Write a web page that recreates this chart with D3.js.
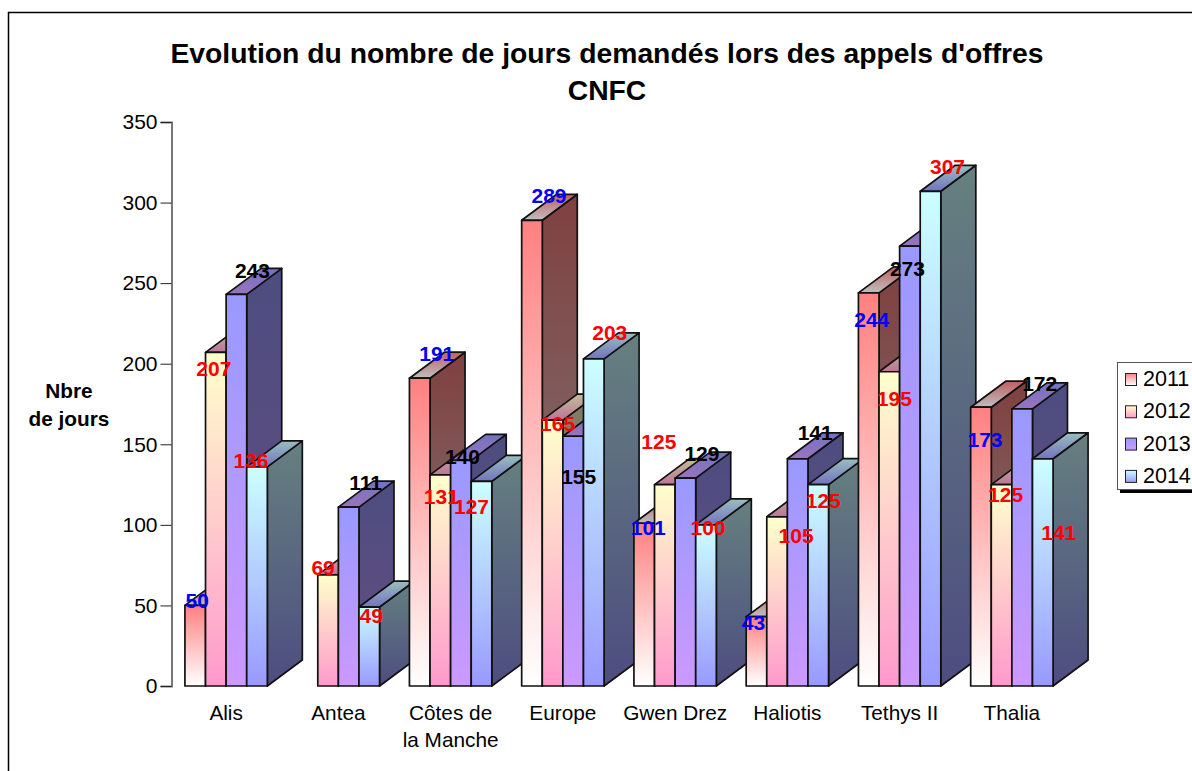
<!DOCTYPE html>
<html>
<head>
<meta charset="utf-8">
<script src="https://cdn.jsdelivr.net/npm/d3@7"></script>
<style>
body { margin: 0; background: #fff; overflow: hidden; }
text { font-family: "Liberation Sans", Arial, sans-serif; fill: #000; }
</style>
</head>
<body>
<div id="chart-area"></div>
<script>
var categories = ["Alis", "Antea", "Côtes de|la Manche", "Europe", "Gwen Drez", "Haliotis", "Tethys II", "Thalia"];
var years = ["2011", "2012", "2013", "2014"];

// one value per year, null = no bar
var values2011 = [50, null, 191, 289, 101, 43, 244, 173];
var values2012 = [207, 69, 131, 165, 125, 105, 195, 125];
var values2013 = [243, 111, 140, 155, 129, 141, 273, 172];
var values2014 = [136, 49, 127, 203, 100, 125, 307, 141];
var allValues = [values2011, values2012, values2013, values2014];

var yTicks = [0, 50, 100, 150, 200, 250, 300, 350];

// gradient ends per year
var topColors = ["#ff8080", "#ffffcc", "#9999ff", "#ccffff"];
var bottomColors = ["#ffffff", "#ff99cc", "#cc99ff", "#9999ff"];

// data label colours, by year then category
var labelColors = [
    ["blue", null, "blue", "blue", "blue", "blue", "blue", "blue"],
    ["red", "red", "red", "red", "red", "red", "red", "red"],
    ["#000", "#000", "#000", "#000", "#000", "#000", "#000", "#000"],
    ["red", "red", "red", "red", "red", "red", "red", "red"]
];

// hand placed data labels in the original: offset from the top of each bar
var labelOffsets = [
    [[2, -5], null, [17, -25], [17, -25], [4, 4], [-3, 6], [3, 27], [4, 32]],
    [[-2, 16], [-5, -7], [1, 22], [5, 3], [-6, -43], [19, 19], [5, 27], [4, 10]],
    [[16, -24], [17, -25], [1.5, -4], [5.5, 40], [16.5, -25], [17.5, -26], [-2.5, 22], [17.5, -25]],
    [[-6, -6], [2, 8], [-10, 25], [16, -26], [2, 3], [5, 16], [17, -25], [16, 74]]
];

var depthX = 35, depthY = 26;

var svg = d3.select("#chart-area").append("svg")
    .attr("width", 1192)
    .attr("height", 771)
    .style("display", "block");

var defs = svg.append("defs");

// Scales
var x = d3.scaleBand().domain(categories).range([170, 1068]).paddingInner(0.266).paddingOuter(0.133);
var slot = d3.scaleBand().domain(years).range([0, x.bandwidth()]);
var y = d3.scaleLinear().domain([0, 350]).range([686, 122]);

function shade(color, k) {
    var c = d3.rgb(color);
    return d3.rgb(c.r * k, c.g * k, c.b * k).formatHex();
}

function addGradient(id, from, to) {
    var g = defs.append("linearGradient").attr("id", id)
        .attr("x1", 0).attr("y1", 0).attr("x2", 0).attr("y2", 1);
    g.append("stop").attr("offset", "0%").attr("stop-color", from);
    g.append("stop").attr("offset", "100%").attr("stop-color", to);
}

years.forEach((year, i) => {
    addGradient("front" + year, topColors[i], bottomColors[i]);
    addGradient("side" + year, shade(topColors[i], 0.5), shade(bottomColors[i], 0.5));
    addGradient("top" + year, shade(topColors[i], 0.75), shade(bottomColors[i], 0.75));
});

// Frame
svg.append("path").attr("d", "M8.5,771V12.5H1192").attr("fill", "none").attr("stroke", "#000").attr("stroke-width", 1.5);

// Title
var title = svg.append("text").attr("text-anchor", "middle").attr("font-size", "28.3px").attr("font-weight", "bold");
title.append("tspan").attr("x", 607).attr("y", 63).text("Evolution du nombre de jours demandés lors des appels d'offres");
title.append("tspan").attr("x", 607).attr("y", 100).text("CNFC");

// Bars, left to right so each one hides the side of the one before
var bars = svg.append("g");
categories.forEach((cat, c) => {
    years.forEach((year, i) => {
        var v = allValues[i][c];
        if (v === null) return;
        var x0 = x(cat) + slot(year), x1 = x0 + slot.bandwidth();
        var y0 = y(v), y1 = y(0);
        var g = bars.append("g").attr("stroke", "#111").attr("stroke-width", 1.7).attr("stroke-linejoin", "round");
        g.append("path")
            .attr("d", `M${x1},${y0}L${x1 + depthX},${y0 - depthY}V${y1 - depthY}L${x1},${y1}Z`)
            .attr("fill", `url(#side${year})`);
        g.append("path")
            .attr("d", `M${x0},${y0}L${x0 + depthX},${y0 - depthY}H${x1 + depthX}L${x1},${y0}Z`)
            .attr("fill", `url(#top${year})`);
        g.append("rect")
            .attr("x", x0).attr("y", y0)
            .attr("width", x1 - x0).attr("height", y1 - y0)
            .attr("fill", `url(#front${year})`);
    });
});

// Axes
var yAxis = d3.axisLeft(y).tickValues(yTicks).tickSize(11).tickPadding(3);
var yG = svg.append("g").attr("transform", "translate(171.5,0)").call(yAxis);
yG.select(".domain").attr("stroke", "#777").attr("stroke-width", 2);
yG.selectAll(".tick line").attr("stroke", "#222").attr("stroke-width", 1);
yG.selectAll(".tick text").attr("font-size", "21px").attr("font-family", null);

var xAxis = d3.axisBottom(x).tickSize(0).tickFormat("");
var xG = svg.append("g").attr("transform", "translate(0,686)").call(xAxis);
xG.select(".domain").remove();
xG.selectAll(".tick").each(function(d) {
    var t = d3.select(this).append("text").attr("text-anchor", "middle").attr("font-size", "20.8px");
    d.split("|").forEach((line, i) => {
        t.append("tspan").attr("x", 0).attr("y", 34 + i * 27).text(line);
    });
});

// Axis label
var yLabel = svg.append("text").attr("text-anchor", "middle").attr("font-size", "20.8px").attr("font-weight", "bold");
yLabel.append("tspan").attr("x", 69).attr("y", 398).text("Nbre");
yLabel.append("tspan").attr("x", 69).attr("y", 426).text("de jours");

// Data labels
var labels = svg.append("g");
categories.forEach((cat, c) => {
    years.forEach((year, i) => {
        var v = allValues[i][c];
        if (v === null) return;
        var off = labelOffsets[i][c];
        labels.append("text")
            .attr("x", x(cat) + slot(year) + slot.bandwidth() / 2 + off[0])
            .attr("y", y(v) + off[1])
            .attr("dy", "0.36em")
            .attr("text-anchor", "middle")
            .attr("font-size", "21px")
            .attr("font-weight", "bold")
            .style("fill", labelColors[i][c])
            .text(v);
    });
});

// Legend
var legend = svg.append("g").attr("transform", "translate(1117,362)");
legend.append("rect").attr("x", 3).attr("y", 4).attr("width", 90).attr("height", 127).attr("fill", "#000");
legend.append("rect").attr("x", 0.5).attr("y", 0.5).attr("width", 90).attr("height", 127)
    .attr("fill", "#fff").attr("stroke", "#555").attr("stroke-width", 1);
years.forEach((year, i) => {
    var row = legend.append("g").attr("transform", `translate(0,${i * 32.3})`);
    row.append("rect").attr("x", 8.5).attr("y", 11.5).attr("width", 11).attr("height", 12)
        .attr("fill", `url(#front${year})`).attr("stroke", "#222").attr("stroke-width", 1);
    row.append("text").attr("x", 26).attr("y", 24).attr("font-size", "21.5px").text(year);
});
</script>
</body>
</html>
